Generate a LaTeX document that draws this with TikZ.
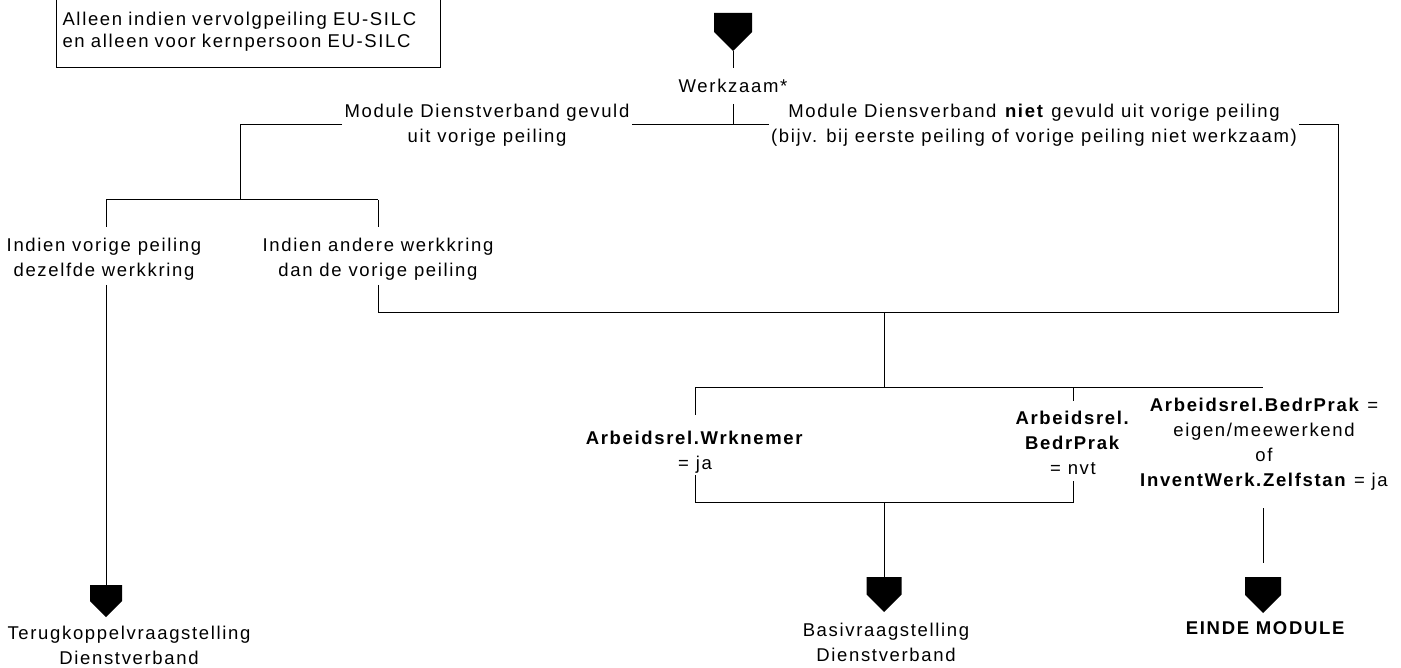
\documentclass[tikz,border=0pt]{standalone}
\usepackage{fontspec}
\setmainfont{Liberation Sans}[LetterSpace=9]
\newcommand\mypent[4]{%
  \fill (#1-#3,#2) -- (#1+#3,#2) -- (#1+#3,#2+#3) -- (#1,#2+2*#3) -- (#1-#3,#2+#3) -- cycle;
  \coordinate (#4top) at (#1,#2);
  \coordinate (#4tip) at (#1,#2+2*#3);}
\begin{document}
\begin{tikzpicture}[x=1pt,y=-1pt,line width=1pt,
  lbl/.style={align=center,inner sep=2pt,font=\fontsize{18.5}{25}\selectfont},
  conn/.style={draw=black,line width=1pt}]
\useasboundingbox (0,0) rectangle (1401,668);
% note box
\node[draw,line width=1pt,anchor=south west,text width=372pt,inner xsep=6pt,minimum height=72pt,
      align=left,font=\fontsize{18.5}{22}\selectfont] (note) at (56,68)
  {Alleen indien vervolgpeiling EU-SILC\\en alleen voor kernpersoon EU-SILC};
% start
\mypent{733}{13}{19}{p0}
\node[lbl,inner sep=0pt,minimum height=35pt] (werk) at (733,86) {Werkzaam*};
\coordinate (j0) at (733,125);
\node[lbl] (mL) at (487,125) {Module Dienstverband gevuld\\uit vorige peiling};
\node[lbl] (mR) at (1034,125) {Module Diensverband \textbf{niet} gevuld uit vorige peiling\\(bijv. bij eerste peiling of vorige peiling niet werkzaam)};
\coordinate (cL1) at (240,125);
\coordinate (cL2) at (240,200);
\coordinate (cR1) at (1338,125);
\coordinate (cR2) at (1338,313);
\coordinate (bL) at (106,200);
\coordinate (bR) at (378,200);
\node[lbl] (iL) at (104,259) {Indien vorige peiling\\dezelfde werkkring};
\node[lbl] (iR) at (378,259) {Indien andere werkkring\\dan de vorige peiling};
\coordinate (iLt) at (106,227);
\coordinate (iLb) at (106,285);
\coordinate (iRt) at (378,227);
\coordinate (iRb) at (378,285);
\coordinate (mB) at (378,313);
\coordinate (j2) at (884,313);
\coordinate (j3) at (884,388);
\coordinate (hL) at (695,388);
\coordinate (hM) at (1073,388);
\coordinate (hR) at (1263,388);
\node[lbl] (aW) at (695,452) {\textbf{Arbeidsrel.Wrknemer}\\= ja};
\node[lbl] (aB) at (1073,443) {\textbf{Arbeidsrel.}\\\textbf{BedrPrak}\\= nvt};
\node[lbl] (aZ) at (1264,444) {\textbf{Arbeidsrel.BedrPrak} =\\eigen/meewerkend\\of\\\textbf{InventWerk.Zelfstan} = ja};
\coordinate (aWt) at (695,415);
\coordinate (aWb) at (695,475);
\coordinate (aBt) at (1073,401);
\coordinate (aBb) at (1073,481);
\coordinate (gL) at (695,502);
\coordinate (gR) at (1073,502);
\coordinate (j4) at (884,502);
\coordinate (aZb) at (1263,508);
\coordinate (aZe) at (1263,563);
% end markers
\mypent{106}{585}{16}{p1}
\mypent{884}{577}{17.5}{p2}
\mypent{1263}{577}{18}{p3}
\node[lbl] (t1) at (129,645) {Terugkoppelvraagstelling\\Dienstverband};
\node[lbl] (t2) at (886,642) {Basivraagstelling\\Dienstverband};
\node[lbl] (t3) at (1266,628) {\textbf{EINDE MODULE}};
% connectors
\draw[conn] (p0tip) -- (werk.north);
\draw[conn] (werk.south) -- (j0);
\draw[conn] (j0) -- (mL.east);
\draw[conn] (mL.west) -- (cL1) -- (cL2);
\draw[conn] (j0) -- (mR.west);
\draw[conn] (mR.east) -- (cR1) -- (cR2) -- (mB);
\draw[conn] (bL) -- (bR);
\draw[conn] (bL) -- (iLt);
\draw[conn] (bR) -- (iRt);
\draw[conn] (iLb) -- (p1top);
\draw[conn] (iRb) -- (mB);
\draw[conn] (j2) -- (j3);
\draw[conn] (hL) -- (hR);
\draw[conn] (hL) -- (aWt);
\draw[conn] (hM) -- (aBt);
\draw[conn] (aWb) -- (gL) -- (gR) -- (aBb);
\draw[conn] (j4) -- (p2top);
\draw[conn] (aZb) -- (aZe);
\end{tikzpicture}
\end{document}
